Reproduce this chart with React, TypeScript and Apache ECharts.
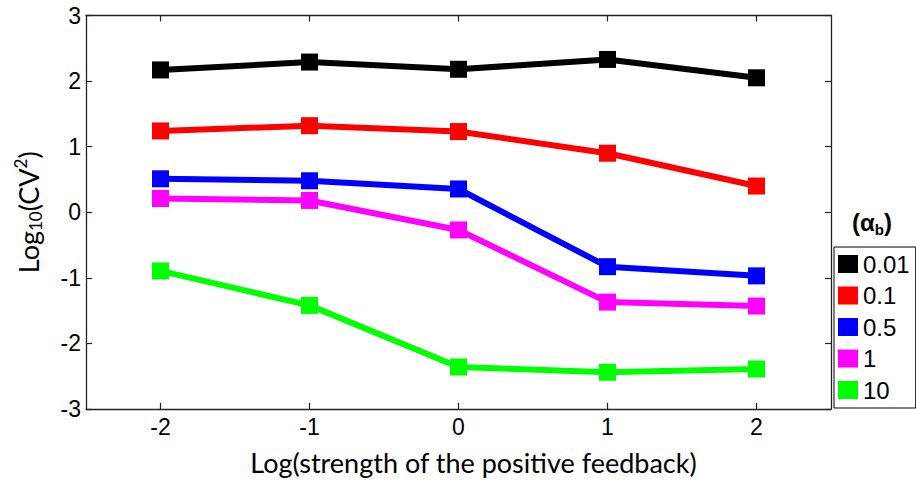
import React, { useEffect, useRef } from "react";
import * as echarts from "echarts";

// Log strength of the positive feedback
const xValues = [-2, -1, 0, 1, 2];
const xTicks = [-2, -1, 0, 1, 2];

// alpha_b levels shown in the legend
const alphaNames = ["0.01", "0.1", "0.5", "1", "10"];
const alphaColors = ["#000000", "#ff0000", "#0000ff", "#ff00ff", "#00ff00"];

// Log10(CV^2) for each alpha_b
const cvAlpha001 = [2.17, 2.29, 2.18, 2.33, 2.05];
const cvAlpha01 = [1.24, 1.32, 1.23, 0.9, 0.4];
const cvAlpha05 = [0.51, 0.48, 0.355, -0.83, -0.97];
const cvAlpha1 = [0.21, 0.18, -0.27, -1.37, -1.43];
const cvAlpha10 = [-0.895, -1.42, -2.36, -2.44, -2.39];

const allSeries = [cvAlpha001, cvAlpha01, cvAlpha05, cvAlpha1, cvAlpha10];

const numFont = "'Liberation Sans', Arial, sans-serif";
const titleFont = "Lato, 'Open Sans', sans-serif";

export default function App() {
  const ref = useRef<HTMLDivElement>(null);

  useEffect(() => {
    if (!ref.current) return;
    const chart = echarts.init(ref.current, null, { renderer: "svg" });

    const axisLine = { show: true, onZero: false, lineStyle: { color: "#222", width: 1.3 } };
    const tickStyle = { color: "#222", width: 1.2 };

    chart.setOption({
      animation: false,
      backgroundColor: "#ffffff",
      grid: { left: 86, right: 85, top: 15.5, bottom: 73, containLabel: false },
      xAxis: [
        {
          type: "value",
          min: -2.5,
          max: 2.5,
          position: "bottom",
          axisLine,
          splitLine: { show: false },
          axisTick: { show: true, inside: true, length: 6, customValues: xTicks, lineStyle: tickStyle },
          axisLabel: {
            customValues: xTicks,
            fontSize: 23,
            fontFamily: numFont,
            color: "#000",
            margin: 6,
          },
        },
        {
          type: "value",
          min: -2.5,
          max: 2.5,
          position: "top",
          axisLine,
          splitLine: { show: false },
          axisTick: { show: true, inside: true, length: 6, customValues: xTicks, lineStyle: tickStyle },
          axisLabel: { show: false },
        },
      ],
      yAxis: [
        {
          type: "value",
          min: -3,
          max: 3,
          interval: 1,
          position: "left",
          axisLine,
          splitLine: { show: false },
          axisTick: { show: true, inside: true, length: 6, lineStyle: tickStyle },
          axisLabel: { fontSize: 23, fontFamily: numFont, color: "#000", margin: 5 },
          name: "{t|Log}{sub|10}{t|(CV}{sup|2}{t|)}",
          nameLocation: "middle",
          nameRotate: 90,
          nameGap: 42,
          nameTextStyle: {
            rich: {
              t: { fontSize: 27, fontFamily: titleFont, color: "#000", lineHeight: 32, verticalAlign: "middle" },
              sub: { fontSize: 17, fontFamily: titleFont, color: "#000", lineHeight: 32, verticalAlign: "bottom" },
              sup: { fontSize: 17, fontFamily: titleFont, color: "#000", lineHeight: 32, verticalAlign: "top" },
            },
          },
        },
        {
          type: "value",
          min: -3,
          max: 3,
          interval: 1,
          position: "right",
          axisLine,
          splitLine: { show: false },
          axisTick: { show: true, inside: true, length: 6, lineStyle: tickStyle },
          axisLabel: { show: false },
        },
      ],
      legend: {
        orient: "vertical",
        left: 834,
        top: 247,
        padding: [5, 6, 6, 4],
        borderColor: "#000",
        borderWidth: 1,
        backgroundColor: "#fff",
        itemWidth: 20,
        itemHeight: 18,
        itemGap: 7.5,
        icon: "rect",
        data: alphaNames,
        textStyle: { fontSize: 24, fontFamily: numFont, color: "#000", lineHeight: 24 },
      },
      graphic: [
        {
          type: "text",
          x: 872,
          y: 222,
          style: {
            text: "{p|(}{a|α}{s|b}{p|)}",
            align: "center",
            verticalAlign: "middle",
            rich: {
              p: { fontSize: 24, fontWeight: "bold", fontFamily: numFont, fill: "#000", lineHeight: 30 },
              a: { fontSize: 24, fontWeight: "bold", fontFamily: numFont, fill: "#000", lineHeight: 30 },
              s: { fontSize: 15, fontWeight: "bold", fontFamily: numFont, fill: "#000", lineHeight: 30, verticalAlign: "bottom" },
            },
          },
        },
        {
          type: "text",
          x: 473.5,
          y: 462,
          style: {
            text: "Log(strength of the positive feedback)",
            fontSize: 27,
            fontFamily: titleFont,
            fill: "#000",
            align: "center",
            verticalAlign: "middle",
          },
        },
      ],
      series: allSeries.map((vals, i) => ({
        name: alphaNames[i],
        type: "line",
        xAxisIndex: 0,
        yAxisIndex: 0,
        data: xValues.map((x, j) => [x, vals[j]]),
        symbol: "rect",
        symbolSize: 17,
        color: alphaColors[i],
        lineStyle: { width: 6, color: alphaColors[i] },
        itemStyle: { color: alphaColors[i] },
      })),
    });

    return () => chart.dispose();
  }, []);

  return (
    <div
      ref={ref}
      style={{ position: "absolute", left: 0, top: 0, width: 916, height: 482 }}
    />
  );
}
